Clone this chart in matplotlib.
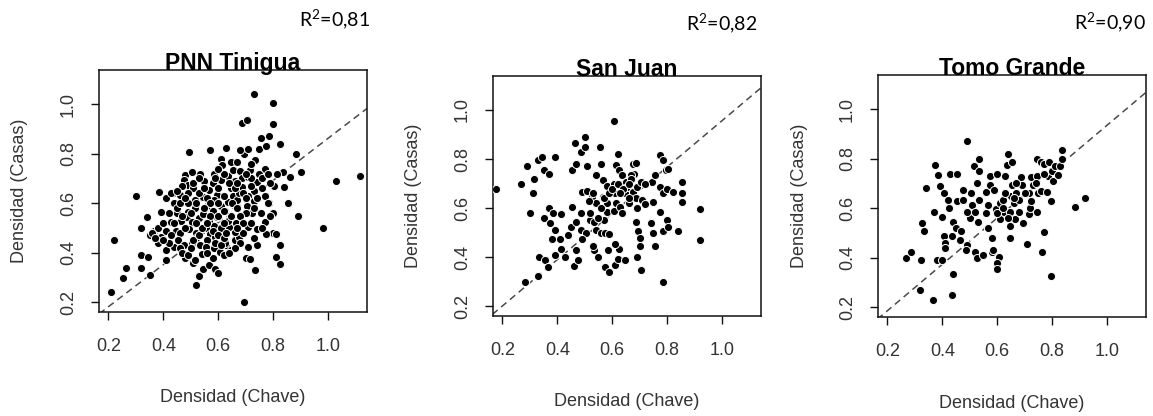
import matplotlib.pyplot as plt
import numpy as np

# Panel names, R2 text, and fitted line (intercept, slope) per panel
titles = ["PNN Tinigua", "San Juan", "Tomo Grande"]
r2_values = ["0,81", "0,82", "0,90"]
fit_intercept = [0.012, 0.013, -0.001]
fit_slope = [0.85, 0.943, 0.936]

# PNN Tinigua: Densidad (Chave) vs Densidad (Casas)
tinigua_chave = [
    0.21, 0.22, 0.265, 0.255, 0.30, 0.318, 0.32, 0.318, 0.345, 0.35, 0.34, 0.385, 0.39, 0.41,
    0.367, 0.35, 0.38, 0.39, 0.38, 0.41, 0.41, 0.44, 0.43, 0.45, 0.465, 0.445, 0.46, 0.455,
    0.475, 0.48, 0.495, 0.48, 0.505, 0.475, 0.49, 0.51, 0.49, 0.46, 0.435, 0.535, 0.55, 0.535,
    0.515, 0.49, 0.515, 0.49, 0.485, 0.505, 0.53, 0.495, 0.52, 0.505, 0.52, 0.535, 0.54, 0.51,
    0.515, 0.53, 0.52, 0.545, 0.565, 0.59, 0.60, 0.57, 0.61, 0.615, 0.585, 0.58, 0.61, 0.565,
    0.595, 0.545, 0.585, 0.56, 0.61, 0.58, 0.545, 0.595, 0.565, 0.585, 0.555, 0.61, 0.57, 0.56,
    0.59, 0.555, 0.585, 0.605, 0.62, 0.63, 0.645, 0.625, 0.66, 0.675, 0.66, 0.64, 0.665, 0.635,
    0.645, 0.625, 0.66, 0.635, 0.655, 0.67, 0.675, 0.645, 0.66, 0.635, 0.655, 0.63, 0.645, 0.67,
    0.68, 0.685, 0.695, 0.685, 0.705, 0.73, 0.80, 0.80, 0.71, 0.735, 0.75, 0.755, 0.785, 0.775,
    0.825, 0.885, 0.90, 0.86, 0.835, 0.815, 0.84, 0.855, 0.89, 0.98, 1.03, 1.115, 0.825, 0.825,
    0.81, 0.80, 0.81, 0.775, 0.80, 0.785, 0.77, 0.805, 0.79, 0.77, 0.75, 0.74, 0.73, 0.71,
    0.73, 0.705, 0.725, 0.70, 0.755, 0.77, 0.74, 0.71, 0.69, 0.71, 0.74, 0.70, 0.715, 0.735,
    0.695, 0.685, 0.69, 0.715, 0.72, 0.71, 0.68,
    0.43, 0.44, 0.45, 0.42, 0.40, 0.41, 0.43, 0.42, 0.46, 0.47, 0.49, 0.50, 0.51, 0.53,
    0.54, 0.52, 0.50, 0.52, 0.53, 0.51, 0.53, 0.55, 0.56, 0.57, 0.55, 0.57, 0.56, 0.58,
    0.60, 0.59, 0.61, 0.62, 0.63, 0.62, 0.60, 0.62, 0.60, 0.62, 0.60, 0.59, 0.62, 0.60,
    0.64, 0.66, 0.67, 0.65, 0.67, 0.68, 0.69, 0.67, 0.70, 0.72, 0.72, 0.70, 0.73, 0.74,
    0.76, 0.76, 0.78, 0.78, 0.79, 0.76, 0.72, 0.73, 0.68, 0.66, 0.64, 0.58, 0.56, 0.48,
    0.47, 0.46, 0.48, 0.47, 0.45, 0.44, 0.36, 0.37, 0.40,
]
tinigua_casas = [
    0.24, 0.45, 0.34, 0.30, 0.63, 0.50, 0.39, 0.34, 0.385, 0.31, 0.545, 0.645, 0.565, 0.62,
    0.49, 0.47, 0.50, 0.465, 0.44, 0.41, 0.37, 0.425, 0.525, 0.56, 0.53, 0.49, 0.48, 0.45,
    0.43, 0.38, 0.805, 0.715, 0.725, 0.695, 0.675, 0.66, 0.64, 0.635, 0.64, 0.72, 0.69, 0.625,
    0.615, 0.60, 0.58, 0.565, 0.545, 0.525, 0.54, 0.495, 0.48, 0.44, 0.46, 0.43, 0.395, 0.36,
    0.37, 0.305, 0.27, 0.335, 0.35, 0.335, 0.32, 0.815, 0.78, 0.755, 0.72, 0.68, 0.695, 0.655,
    0.635, 0.625, 0.615, 0.59, 0.59, 0.57, 0.555, 0.545, 0.53, 0.51, 0.50, 0.50, 0.475, 0.45,
    0.465, 0.425, 0.42, 0.405, 0.39, 0.43, 0.41, 0.44, 0.45, 0.465, 0.485, 0.505, 0.52, 0.53,
    0.55, 0.57, 0.59, 0.605, 0.63, 0.615, 0.64, 0.66, 0.69, 0.71, 0.735, 0.825, 0.765, 0.765,
    0.73, 0.70, 0.80, 0.925, 0.935, 1.04, 1.005, 0.92, 0.82, 0.775, 0.82, 0.865, 0.87, 0.83,
    0.84, 0.80, 0.725, 0.705, 0.725, 0.72, 0.665, 0.60, 0.55, 0.50, 0.69, 0.71, 0.43, 0.355,
    0.385, 0.48, 0.475, 0.475, 0.56, 0.60, 0.63, 0.67, 0.68, 0.74, 0.72, 0.685, 0.65, 0.63,
    0.61, 0.59, 0.56, 0.56, 0.56, 0.525, 0.495, 0.505, 0.48, 0.425, 0.43, 0.38, 0.375, 0.33,
    0.20, 0.665, 0.64, 0.735, 0.76, 0.705, 0.815,
    0.64, 0.60, 0.58, 0.56, 0.52, 0.49, 0.47, 0.44, 0.42, 0.40, 0.39, 0.42, 0.45, 0.47,
    0.50, 0.52, 0.56, 0.60, 0.64, 0.68, 0.70, 0.66, 0.62, 0.60, 0.58, 0.55, 0.52, 0.49,
    0.47, 0.44, 0.43, 0.46, 0.48, 0.52, 0.55, 0.57, 0.60, 0.63, 0.66, 0.70, 0.72, 0.74,
    0.68, 0.66, 0.68, 0.60, 0.58, 0.55, 0.52, 0.50, 0.62, 0.67, 0.70, 0.72, 0.58, 0.62,
    0.66, 0.70, 0.72, 0.60, 0.55, 0.50, 0.52, 0.46, 0.44, 0.42, 0.40, 0.38, 0.40, 0.50,
    0.55, 0.60, 0.62, 0.67, 0.65, 0.52, 0.48, 0.46, 0.45,
]

# San Juan
sanjuan_chave = [
    0.176, 0.267, 0.29, 0.315, 0.31, 0.30, 0.33, 0.345, 0.35, 0.37, 0.39, 0.35, 0.37, 0.385,
    0.375, 0.39, 0.38, 0.41, 0.415, 0.415, 0.43, 0.39, 0.335, 0.355, 0.365, 0.33, 0.283, 0.455,
    0.45, 0.44, 0.46, 0.475, 0.47, 0.47, 0.485, 0.485, 0.505, 0.49, 0.455, 0.465, 0.485, 0.50,
    0.50, 0.47, 0.51, 0.54, 0.555, 0.56, 0.49, 0.51, 0.525, 0.54, 0.515, 0.52, 0.535, 0.54,
    0.56, 0.535, 0.55, 0.53, 0.565, 0.58, 0.565, 0.58, 0.57, 0.58, 0.575, 0.59, 0.585, 0.575,
    0.59, 0.605, 0.61, 0.62, 0.625, 0.61, 0.645, 0.605, 0.615, 0.625, 0.61, 0.615, 0.605, 0.63,
    0.635, 0.62, 0.635, 0.65, 0.645, 0.655, 0.66, 0.675, 0.685, 0.68, 0.67, 0.675, 0.69, 0.685,
    0.705, 0.71, 0.69, 0.72, 0.685, 0.695, 0.70, 0.70, 0.69, 0.705, 0.74, 0.75, 0.755, 0.75,
    0.745, 0.755, 0.775, 0.785, 0.775, 0.785, 0.775, 0.785, 0.785, 0.795, 0.80, 0.80, 0.805, 0.805,
    0.82, 0.84, 0.855, 0.855, 0.855, 0.92, 0.92,
    0.55, 0.57, 0.59, 0.60, 0.62, 0.64, 0.66, 0.67, 0.52, 0.53, 0.56, 0.63, 0.66, 0.72,
]
sanjuan_casas = [
    0.68, 0.70, 0.77, 0.72, 0.66, 0.58, 0.795, 0.81, 0.755, 0.74, 0.81, 0.56, 0.60, 0.58,
    0.54, 0.51, 0.475, 0.475, 0.575, 0.435, 0.40, 0.41, 0.40, 0.39, 0.36, 0.325, 0.30, 0.605,
    0.525, 0.49, 0.365, 0.39, 0.43, 0.545, 0.58, 0.51, 0.50, 0.475, 0.755, 0.865, 0.83, 0.85,
    0.89, 0.78, 0.77, 0.735, 0.85, 0.78, 0.665, 0.67, 0.645, 0.62, 0.63, 0.55, 0.545, 0.51,
    0.50, 0.43, 0.40, 0.445, 0.715, 0.69, 0.645, 0.585, 0.55, 0.62, 0.50, 0.495, 0.43, 0.36,
    0.34, 0.955, 0.37, 0.395, 0.435, 0.455, 0.39, 0.70, 0.775, 0.755, 0.66, 0.62, 0.59, 0.605,
    0.58, 0.82, 0.735, 0.705, 0.66, 0.685, 0.62, 0.78, 0.785, 0.74, 0.735, 0.665, 0.685, 0.64,
    0.705, 0.635, 0.60, 0.615, 0.545, 0.505, 0.48, 0.445, 0.40, 0.35, 0.54, 0.50, 0.445, 0.625,
    0.705, 0.735, 0.815, 0.795, 0.685, 0.66, 0.585, 0.505, 0.30, 0.755, 0.68, 0.55, 0.525, 0.76,
    0.665, 0.505, 0.705, 0.66, 0.625, 0.595, 0.47,
    0.56, 0.64, 0.66, 0.68, 0.70, 0.68, 0.64, 0.72, 0.58, 0.66, 0.60, 0.66, 0.70, 0.70,
]

# Tomo Grande
tomo_chave = [
    0.267, 0.287, 0.324, 0.32, 0.367, 0.436, 0.44, 0.325, 0.335, 0.34, 0.372, 0.37, 0.38, 0.40,
    0.385, 0.39, 0.40, 0.405, 0.41, 0.41, 0.405, 0.42, 0.43, 0.455, 0.425, 0.44, 0.435, 0.45,
    0.455, 0.465, 0.47, 0.475, 0.475, 0.49, 0.485, 0.49, 0.50, 0.505, 0.49, 0.515, 0.51, 0.52,
    0.52, 0.525, 0.525, 0.53, 0.535, 0.535, 0.535, 0.55, 0.56, 0.565, 0.565, 0.575, 0.575, 0.58,
    0.58, 0.585, 0.59, 0.595, 0.60, 0.605, 0.60, 0.60, 0.61, 0.61, 0.62, 0.625, 0.63, 0.635,
    0.64, 0.645, 0.645, 0.645, 0.65, 0.655, 0.655, 0.66, 0.665, 0.67, 0.68, 0.68, 0.685, 0.69,
    0.695, 0.71, 0.715, 0.715, 0.72, 0.725, 0.725, 0.73, 0.745, 0.745, 0.745, 0.75, 0.76, 0.76,
    0.77, 0.77, 0.765, 0.78, 0.785, 0.79, 0.795, 0.795, 0.80, 0.805, 0.81, 0.82, 0.83, 0.835,
    0.835, 0.885, 0.92,
    0.60, 0.62, 0.64, 0.66, 0.63, 0.67, 0.70, 0.74, 0.77, 0.56,
]
tomo_casas = [
    0.40, 0.425, 0.39, 0.27, 0.23, 0.25, 0.335, 0.54, 0.51, 0.68, 0.775, 0.585, 0.39, 0.39,
    0.735, 0.69, 0.565, 0.49, 0.46, 0.44, 0.66, 0.635, 0.74, 0.74, 0.60, 0.545, 0.49, 0.52,
    0.63, 0.47, 0.51, 0.675, 0.635, 0.45, 0.43, 0.87, 0.56, 0.66, 0.585, 0.77, 0.615, 0.585,
    0.425, 0.40, 0.70, 0.545, 0.75, 0.80, 0.635, 0.41, 0.665, 0.615, 0.52, 0.73, 0.695, 0.425,
    0.48, 0.43, 0.675, 0.595, 0.74, 0.405, 0.38, 0.355, 0.555, 0.62, 0.635, 0.585, 0.73, 0.775,
    0.82, 0.585, 0.53, 0.48, 0.65, 0.785, 0.695, 0.62, 0.555, 0.66, 0.635, 0.585, 0.725, 0.695,
    0.54, 0.455, 0.66, 0.575, 0.60, 0.63, 0.725, 0.695, 0.80, 0.73, 0.585, 0.66, 0.785, 0.67,
    0.78, 0.505, 0.425, 0.665, 0.73, 0.785, 0.63, 0.325, 0.75, 0.71, 0.77, 0.735, 0.77, 0.80,
    0.835, 0.605, 0.64,
    0.58, 0.60, 0.56, 0.64, 0.66, 0.70, 0.66, 0.70, 0.74, 0.58,
]

chave = [tinigua_chave, sanjuan_chave, tomo_chave]
casas = [tinigua_casas, sanjuan_casas, tomo_casas]

# axes boxes in pixels (left, top, right, bottom)
boxes = [(99, 70, 367, 312), (493, 76, 761, 316), (878, 75, 1146, 317)]
r2_pos = [(335, 19), (722, 23), (1110, 22)]

W, H = 1153, 416
fig = plt.figure(figsize=(W / 100, H / 100), dpi=100)
plt.rcParams['font.family'] = ['Liberation Sans', 'DejaVu Sans']
plt.rcParams['mathtext.fontset'] = 'custom'
plt.rcParams['mathtext.rm'] = 'Lato'
plt.rcParams['mathtext.it'] = 'Lato'
plt.rcParams['mathtext.default'] = 'rm'

ticks = [0.2, 0.4, 0.6, 0.8, 1.0]

for i in range(3):
    l, t, r, b = boxes[i]
    ax = fig.add_axes([l / W, 1 - b / H, (r - l) / W, (b - t) / H])

    # scatter points, black with white rim like R
    ax.scatter(chave[i], casas[i], s=34, c='black', edgecolors='white', linewidths=0.7, zorder=3)

    # dashed fitted line across the whole panel
    xx = np.array([0.1, 1.2])
    ax.plot(xx, fit_intercept[i] + fit_slope[i] * xx, ls=(0, (4.5, 3)), color='#4a4a4a', lw=1.1, zorder=2)

    ax.set_xlim(0.166, 1.142)
    ax.set_ylim(0.161, 1.138)
    ax.set_xticks(ticks)
    ax.set_yticks(ticks)
    ax.set_xticklabels(['%.1f' % v for v in ticks])
    ax.set_yticklabels(['%.1f' % v for v in ticks])
    ax.tick_params(direction='out', length=6, width=1, labelsize=13, colors='#111111',
                   labelcolor='#333333')
    ax.tick_params(axis='x', pad=13)
    ax.tick_params(axis='y', pad=10)
    for lab in ax.get_yticklabels():
        lab.set_rotation(90)
        lab.set_va('center')

    for sp in ax.spines.values():
        sp.set_linewidth(1.1)
        sp.set_color('#111111')

    ax.set_xlabel("Densidad (Chave)", fontsize=13, color='#333333', va='center')
    ax.set_ylabel("Densidad (Casas)", fontsize=13, color='#333333', va='center')
    ax.xaxis.set_label_coords(0.5, -86 / (b - t))
    ax.yaxis.set_label_coords(-79 / (r - l), 0.5)

    # title sits right on the frame
    ax.text(0.5, 1.0, titles[i], transform=ax.transAxes, ha='center', va='baseline',
            fontsize=16.5, fontweight='bold', color='black', zorder=5)

    fig.text(r2_pos[i][0] / W, 1 - r2_pos[i][1] / H, "R$^{2}$=" + r2_values[i], ha='center', va='center',
             fontsize=14, family=['Lato', 'DejaVu Sans'], color='black')

fig.savefig('out.png', dpi=100)
